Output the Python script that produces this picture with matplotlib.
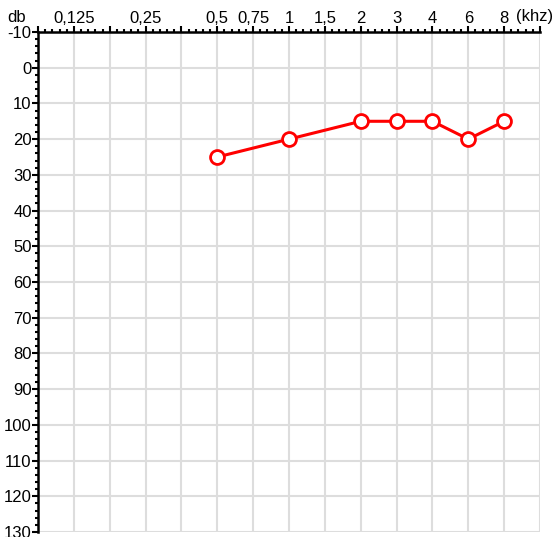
import numpy as np
import matplotlib.pyplot as plt
from matplotlib.ticker import MultipleLocator

plt.rcParams['font.family'] = ['Liberation Sans', 'DejaVu Sans']
plt.rcParams['axes.unicode_minus'] = False

# column labels of the audiogram (one column per grid step)
freq_labels = ['', '0,125', '', '0,25', '', '0,5', '0,75', '1', '1,5', '2', '3', '4', '6', '8', '']
freq_khz = [0.5, 1, 2, 3, 4, 6, 8]
hearing_db = [25, 20, 15, 15, 15, 20, 15]

# map measured frequencies to their column
col_of = {0.125: 1, 0.25: 3, 0.5: 5, 0.75: 6, 1: 7, 1.5: 8, 2: 9, 3: 10, 4: 11, 6: 12, 8: 13}
xs = [col_of[f] for f in freq_khz]

fig = plt.figure(figsize=(5.58, 5.37), dpi=100)
ax = fig.add_axes([38 / 558, 1 - 532 / 537, 502 / 558, 500 / 537])

ax.set_xlim(0, 14)
ax.set_ylim(130, -10)

ax.xaxis.set_major_locator(MultipleLocator(1))
ax.xaxis.set_minor_locator(MultipleLocator(0.2))
ax.set_xticks(range(len(freq_labels)))
ax.set_xticklabels(freq_labels)
ax.yaxis.set_major_locator(MultipleLocator(10))
ax.yaxis.set_minor_locator(MultipleLocator(2))

ax.xaxis.tick_top()
ax.grid(True, which='major', color='#dddddd', linewidth=1.5, zorder=0)
ax.set_axisbelow(True)

for side in ['right', 'bottom']:
    ax.spines[side].set_visible(False)
for side in ['left', 'top']:
    ax.spines[side].set_linewidth(1.8)

ax.tick_params(axis='both', which='major', length=4, width=1.5, pad=0.5, labelsize=12, direction='out')
ax.tick_params(axis='both', which='minor', length=2.5, width=1.5, direction='out')
ax.tick_params(axis='x', which='both', top=True, bottom=False)

ax.plot(xs, hearing_db, color='#ff0000', linewidth=2.2, marker='o', markersize=10,
        markerfacecolor='white', markeredgecolor='#ff0000', markeredgewidth=2, zorder=5, clip_on=False)

fig.text(17 / 558, 1 - 17 / 537, 'db', ha='center', va='center', fontsize=12)
fig.text(535 / 558, 1 - 17 / 537, '(khz)', ha='center', va='center', fontsize=12)

fig.savefig('out.png', dpi=100)
